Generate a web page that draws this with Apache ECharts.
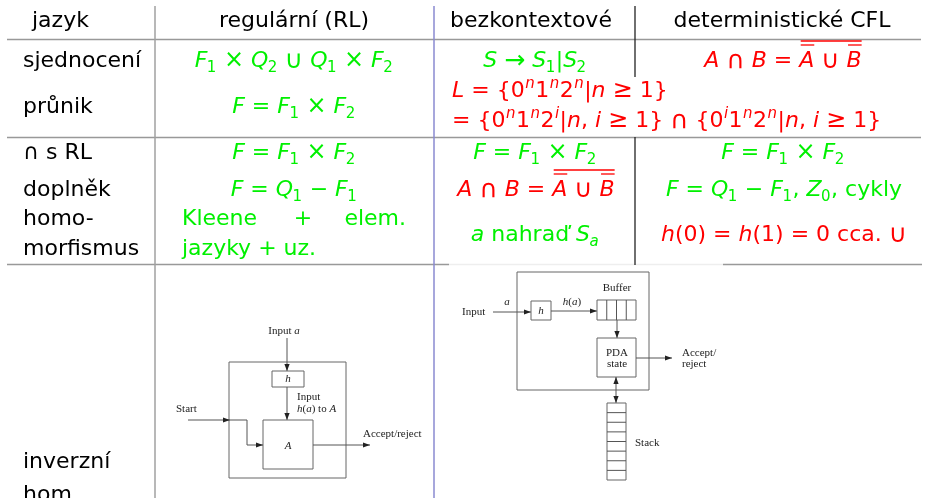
<!DOCTYPE html>
<html><head><meta charset="utf-8">
<script src="https://cdn.jsdelivr.net/npm/echarts@6/dist/echarts.min.js"></script>
<style>html,body{margin:0;padding:0;background:#fff}#c{width:928px;height:498px}</style>
</head><body><div id="c"></div>
<script>
// ---------- content (text only) ----------
const headers = ['jazyk', 'regulární (RL)', 'bezkontextové', 'deterministické CFL'];
const rowLabels = ['sjednocení', 'průnik', '∩ s RL', 'doplněk', 'homo-', 'morfismus', 'inverzní', 'hom.'];
// math markup: letters italic, _x subscript, ^x superscript, <..> overline, [..] upright text
const regularCells = ['F_1 × Q_2 ∪ Q_1 × F_2', 'F = F_1 × F_2', 'F = F_1 × F_2', 'F = Q_1 − F_1'];
const regularHom = [['Kleene', '+', 'elem.'], ['jazyky + uz.']];
const contextFreeCells = ['S → S_1|S_2', 'L = {0^n1^n2^n|n ≥ 1}', '= {0^n1^n2^i|n, i ≥ 1} ∩ {0^i1^n2^n|n, i ≥ 1}',
  'F = F_1 × F_2', 'A ∩ B = <<A> ∪ <B>>', 'a [nahraď] S_a'];
const deterministicCells = ['A ∩ B = <<A> ∪ <B>>', 'F = F_1 × F_2', 'F = Q_1 − F_1, Z_0, [cykly]', 'h(0) = h(1) = 0 [cca.] ∪'];
const leftDiagramLabels = ['Input <a>', '<h>', 'Input', '<h(a)> to <A>', '<A>', 'Start', 'Accept/reject'];
const rightDiagramLabels = ['Input', '<a>', '<h>', '<h(a)>', 'Buffer', 'PDA', 'state', 'Accept/', 'reject', 'Stack'];

// ---------- styling / layout ----------
const FAM = '"DejaVu Sans"';
const SERIF = '"Liberation Serif"';
const MAIN = 22, SCRIPT = 15, SUBDY = 7, SUPDY = -7;
const GREEN = '#00f000', RED = '#ff0000', INK = '#000';
const SYM_SCALE = {'∪': 1.15, '∩': 1.15, '×': 1.08, '→': 1.15, '≥': 1.08};
const ctx = document.createElement('canvas').getContext('2d');

function parse(s) {
  let i = 0;
  function group(end) {
    const out = [];
    while (i < s.length) {
      const c = s[i];
      if (end && c === end) { i++; return out; }
      if (c === '[') { const j = s.indexOf(']', i); out.push({t: 'txt', s: s.slice(i + 1, j), it: false}); i = j + 1; continue; }
      if (c === '<') { i++; out.push({t: 'ol', ch: group('>')}); continue; }
      if (c === '_' || c === '^') {
        const ch = s[i + 1];
        out.push({t: c === '_' ? 'sub' : 'sup', ch: [{t: 'txt', s: ch, it: /[A-Za-z]/.test(ch)}]});
        i += 2; continue;
      }
      out.push({t: 'txt', s: c, it: /[A-Za-z]/.test(c)}); i++;
    }
    return out;
  }
  return group(null);
}
function fontStr(it, size, fam) { return (it ? 'italic ' : '') + size + 'px ' + fam; }
function lay(nodes, x, size, dy, fam, items, bars, script, math) {
  let depth = 0;
  for (const n of nodes) {
    if (n.t === 'txt') {
      const sz = (math && n.s.length === 1 && SYM_SCALE[n.s]) ? Math.round(size * SYM_SCALE[n.s]) : size;
      const f = fontStr(n.it, sz, fam);
      ctx.font = f;
      items.push({s: n.s, x, dy, font: f});
      x += ctx.measureText(n.s).width;
    } else if (n.t === 'sub' || n.t === 'sup') {
      const r = lay(n.ch, x + (n.t === 'sup' ? 0.5 : -0.5), script, n.t === 'sub' ? SUBDY : SUPDY, fam, items, bars, script, math);
      x = r.x + 0.5;
    } else {
      const x0 = x;
      const r = lay(n.ch, x, size, dy, fam, items, bars, script, math);
      const d = r.depth + 1;
      bars.push({x0: x0 + 1.5, x1: r.x, d});
      x = r.x; depth = Math.max(depth, d);
    }
  }
  return {x, depth};
}
function formula(str, cx, cy, color, opt) {
  opt = opt || {};
  const size = opt.size || MAIN, fam = opt.fam || FAM, script = opt.script || SCRIPT;
  const items = [], bars = [];
  const r = lay(parse(str), 0, size, 0, fam, items, bars, script, !opt.plain);
  const x0 = opt.align === 'left' ? cx : (opt.align === 'right' ? cx - r.x : cx - r.x / 2);
  const els = items.map(it => ({
    type: 'text', x: x0 + it.x, y: cy + it.dy, silent: true,
    style: {text: it.s, font: it.font, fill: color, align: 'left', verticalAlign: 'middle',
      textAlign: 'left', textVerticalAlign: 'middle'}
  }));
  bars.forEach(b => {
    const y = cy - 16 - (b.d - 1) * 4;
    els.push({type: 'line', silent: true, shape: {x1: x0 + b.x0, y1: y, x2: x0 + b.x1, y2: y}, style: {stroke: color, lineWidth: 1.3}});
  });
  return els;
}
function plain(str, x, y, color, align) { return formula('[' + str + ']', x, y, color, {align, plain: true}); }
function smallText(spec, x, y, align) {
  // spec: plain text, with <...> marking italic parts
  const parts = spec.split(/(<[^>]*>)/).filter(p => p.length);
  let markup = '';
  parts.forEach(p => {
    if (p[0] === '<') markup += p.slice(1, -1).split('').map(ch => /[A-Za-z]/.test(ch) ? ch : '[' + ch + ']').join('');
    else markup += '[' + p + ']';
  });
  return formula(markup, x, y, '#222', {fam: SERIF, size: 11, align, plain: true});
}
function hline(x1, x2, y, color, w) { return {type: 'line', silent: true, shape: {x1, y1: y, x2, y2: y}, style: {stroke: color, lineWidth: w || 1.5}}; }
function vline(x, y1, y2, color, w) { return {type: 'line', silent: true, shape: {x1: x, y1, x2: x, y2}, style: {stroke: color, lineWidth: w || 1.5}}; }
const DG = '#555';
function rect(x, y, w, h) { return {type: 'rect', silent: true, shape: {x, y, width: w, height: h}, style: {fill: 'none', stroke: '#666', lineWidth: 1}}; }
function seg(x1, y1, x2, y2) { return {type: 'line', silent: true, shape: {x1, y1, x2, y2}, style: {stroke: DG, lineWidth: 1}}; }
function head(x, y, dx, dy) {
  const L = 7, W = 2.6, px = -dy, py = dx;
  return {type: 'polygon', silent: true, shape: {points: [[x, y], [x - dx * L + px * W, y - dy * L + py * W], [x - dx * L - px * W, y - dy * L - py * W]]}, style: {fill: '#222'}};
}
function arrow(x1, y1, x2, y2) {
  const len = Math.hypot(x2 - x1, y2 - y1), dx = (x2 - x1) / len, dy = (y2 - y1) / len;
  return [seg(x1, y1, x2, y2), head(x2, y2, dx, dy)];
}

let g = [];
// table rules
g.push(hline(7, 921, 39.5, '#999'));
g.push(hline(7, 921, 137.5, '#999'));
g.push(hline(7, 449, 264.5, '#999'));
g.push(hline(449, 723, 264.5, '#eeeeee'));
g.push(hline(723, 922, 264.5, '#999'));
g.push(vline(155, 6, 498, '#a0a0a0'));
g.push(vline(434, 6, 498, '#8a8ad0'));
g.push(vline(635, 6, 77, '#222', 1.3));
g.push(vline(635, 137, 265, '#222', 1.3));

// headers
g = g.concat(plain(headers[0], 32, 21, INK, 'left'));
g = g.concat(plain(headers[1], 294, 21, INK));
g = g.concat(plain(headers[2], 531, 21, INK));
g = g.concat(plain(headers[3], 782, 21, INK));
// row labels
const labelY = [61, 107, 153, 190, 219, 249, 462, 495];
rowLabels.forEach((t, i) => { g = g.concat(plain(t, 23, labelY[i], INK, 'left')); });

// regular column
const regY = [61, 107, 153, 190];
regularCells.forEach((t, i) => { g = g.concat(formula(t, 294, regY[i], GREEN)); });
g = g.concat(plain(regularHom[0][0], 182, 219, GREEN, 'left'));
g = g.concat(plain(regularHom[0][1], 303, 219, GREEN));
g = g.concat(plain(regularHom[0][2], 406, 219, GREEN, 'right'));
g = g.concat(plain(regularHom[1][0], 182, 249, GREEN, 'left'));

// context-free column
g = g.concat(formula(contextFreeCells[0], 535, 61, GREEN));
g = g.concat(formula(contextFreeCells[1], 452, 91, RED, {align: 'left'}));
g = g.concat(formula(contextFreeCells[2], 452, 121, RED, {align: 'left'}));
g = g.concat(formula(contextFreeCells[3], 535, 153, GREEN));
g = g.concat(formula(contextFreeCells[4], 536, 190, RED));
g = g.concat(formula(contextFreeCells[5], 535, 235, GREEN));

// deterministic column
g = g.concat(formula(deterministicCells[0], 783, 61, RED));
g = g.concat(formula(deterministicCells[1], 783, 153, GREEN));
g = g.concat(formula(deterministicCells[2], 784, 190, GREEN));
g = g.concat(formula(deterministicCells[3], 784, 235, RED));

// left diagram (inverse homomorphism of finite automaton)
const L = leftDiagramLabels;
g = g.concat(smallText(L[0], 284, 331));
g = g.concat(arrow(287, 338, 287, 371));
g.push(rect(229, 362, 117, 116));
g.push(rect(272, 371, 32, 16));
g = g.concat(smallText(L[1], 288, 379));
g = g.concat(arrow(287, 387, 287, 420));
g = g.concat(smallText(L[2], 297, 397, 'left'));
g = g.concat(smallText(L[3], 297, 409, 'left'));
g.push(rect(263, 420, 50, 49));
g = g.concat(smallText(L[4], 288, 446));
g = g.concat(smallText(L[5], 176, 409, 'left'));
g.push(seg(188, 420, 247, 420));
g.push(head(230, 420, 1, 0));
g.push(seg(247, 420, 247, 445));
g = g.concat(arrow(247, 445, 263, 445));
g = g.concat(arrow(313, 445, 370, 445));
g = g.concat(smallText(L[6], 363, 434, 'left'));

// right diagram (inverse homomorphism of PDA)
const R = rightDiagramLabels;
g.push(rect(517, 272, 132, 118));
g = g.concat(smallText(R[0], 462, 312, 'left'));
g = g.concat(smallText(R[1], 507, 302));
g = g.concat(arrow(493, 312, 531, 312));
g.push(rect(531, 301, 20, 19));
g = g.concat(smallText(R[2], 541, 311));
g = g.concat(arrow(551, 311, 597, 311));
g = g.concat(smallText(R[3], 572, 302));
g = g.concat(smallText(R[4], 617, 288));
g.push(rect(597, 300, 39, 20));
[1, 2, 3].forEach(k => g.push(seg(597 + k * 9.75, 300, 597 + k * 9.75, 320)));
g = g.concat(arrow(617, 320, 617, 338));
g.push(rect(597, 338, 39, 39));
g = g.concat(smallText(R[5], 617, 353));
g = g.concat(smallText(R[6], 617, 364));
g = g.concat(arrow(636, 358, 672, 358));
g = g.concat(smallText(R[7], 682, 353, 'left'));
g = g.concat(smallText(R[8], 682, 364, 'left'));
g.push(seg(616, 377, 616, 403));
g.push(head(616, 377, 0, -1));
g.push(head(616, 403, 0, 1));
g.push(rect(607, 403, 19, 77));
for (let k = 1; k < 8; k++) g.push(seg(607, 403 + k * 9.625, 626, 403 + k * 9.625));
g = g.concat(smallText(R[9], 635, 443, 'left'));

const chart = echarts.init(document.getElementById('c'), null, {renderer: 'canvas'});
chart.setOption({backgroundColor: '#fff', animation: false, graphic: {elements: g}});
</script></body></html>
